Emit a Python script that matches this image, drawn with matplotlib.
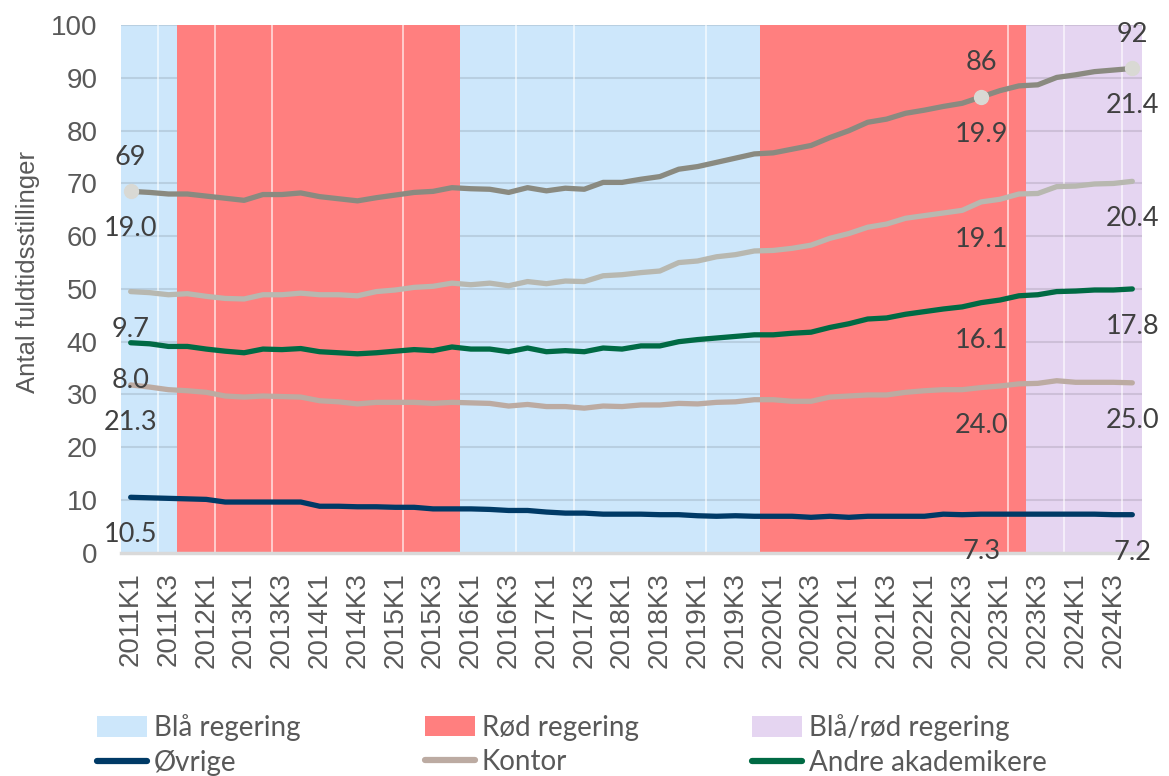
import numpy as np
import matplotlib.pyplot as plt
from matplotlib.patches import Patch
from matplotlib.lines import Line2D

# kvartaler (2012 har kun to kvartaler i data)
kvartaler = ['2011K1', '2011K2', '2011K3', '2011K4', '2012K1', '2012K4'] + \
    [f'{aar}K{k}' for aar in range(2013, 2025) for k in range(1, 5)]

# fuldtidsstillinger pr. gruppe (stables)
ovrige = [10.5, 10.4, 10.3, 10.2, 10.1, 9.6, 9.6, 9.6, 9.6, 9.6,
          8.8, 8.8, 8.7, 8.7, 8.6, 8.6, 8.3, 8.3, 8.3, 8.2,
          8.0, 8.0, 7.7, 7.5, 7.5, 7.3, 7.3, 7.3, 7.2, 7.2,
          7.0, 6.9, 7.0, 6.9, 6.9, 6.9, 6.7, 6.9, 6.7, 6.9,
          6.9, 6.9, 6.9, 7.3, 7.2, 7.3, 7.3, 7.3, 7.3, 7.3,
          7.3, 7.3, 7.2, 7.2]
kontor = [21.3, 21.0, 20.6, 20.5, 20.3, 20.1, 19.9, 20.1, 20.0, 19.9,
          20.0, 19.8, 19.5, 19.8, 19.9, 19.9, 20.0, 20.2, 20.1, 20.1,
          19.8, 20.1, 20.0, 20.2, 19.9, 20.5, 20.4, 20.7, 20.8, 21.1,
          21.2, 21.6, 21.6, 22.1, 22.1, 21.8, 22.0, 22.6, 23.0, 23.0,
          23.0, 23.5, 23.8, 23.6, 23.7, 24.0, 24.3, 24.7, 24.8, 25.3,
          25.0, 25.0, 25.1, 25.0]
andre = [8.0, 8.2, 8.2, 8.4, 8.2, 8.5, 8.4, 8.9, 8.9, 9.2,
         9.3, 9.3, 9.5, 9.4, 9.7, 10.0, 10.0, 10.5, 10.2, 10.3,
         10.3, 10.7, 10.4, 10.6, 10.7, 11.0, 10.9, 11.2, 11.2, 11.7,
         12.2, 12.2, 12.4, 12.3, 12.3, 12.9, 13.1, 13.2, 13.7, 14.4,
         14.6, 14.8, 15.0, 15.3, 15.7, 16.1, 16.3, 16.7, 16.8, 16.9,
         17.3, 17.5, 17.5, 17.8]
gruppe4 = [9.7, 9.7, 9.8, 10.0, 10.0, 10.0, 10.2, 10.3, 10.4, 10.5,
           10.8, 11.0, 11.0, 11.6, 11.6, 11.8, 12.2, 12.1, 12.2, 12.5,
           12.5, 12.6, 12.9, 13.2, 13.3, 13.7, 14.1, 13.9, 14.2, 15.0,
           14.9, 15.4, 15.5, 15.9, 16.0, 16.1, 16.5, 16.9, 17.1, 17.4,
           17.8, 18.2, 18.2, 18.2, 18.3, 19.1, 19.1, 19.3, 19.2, 19.9,
           19.9, 20.1, 20.2, 20.4]
gruppe5 = [19.0, 19.0, 19.1, 18.9, 19.0, 19.0, 18.7, 19.0, 19.0, 19.0,
           18.6, 18.2, 18.0, 17.8, 18.0, 18.0, 18.0, 18.1, 18.2, 17.8,
           17.7, 17.8, 17.6, 17.6, 17.5, 17.7, 17.5, 17.7, 17.9, 17.7,
           17.9, 17.9, 18.3, 18.4, 18.5, 18.8, 18.9, 19.1, 19.5, 19.9,
           19.9, 19.9, 20.0, 20.2, 20.3, 19.9, 20.6, 20.5, 20.6, 20.7,
           21.1, 21.3, 21.5, 21.4]

# regeringsperioder (grænser i kvartal-enheder)
regering = ['blaa', 'roed', 'blaa', 'roed', 'blaaroed']
skift = [-0.5, 2.47, 17.42, 33.3, 47.4, 53.5]
saml = [1.44, 4.46, 7.47, 14.4, 20.4, 23.47, 30.45, 46.4, 49.4, 52.45]

label_idx = [0, 45, 53]

farver = {'blaa': '#cde7fb', 'roed': '#ff7f7f', 'blaaroed': '#e5d5f1'}
linjefarver = ['#003a66', '#bcaba2', '#006a44', '#b8b8b0', '#8a8a80']

serier = np.array([ovrige, kontor, andre, gruppe4, gruppe5])
cum = np.cumsum(serier, axis=0)
x = np.arange(len(kvartaler))

fig = plt.figure(figsize=(11.69, 7.76), dpi=100)
ax = fig.add_axes([0.1037, 0.2878, 0.873, 0.6797])

for i, reg in enumerate(regering):
    z = 1 if reg == 'roed' else 0
    ax.axvspan(skift[i], skift[i + 1], color=farver[reg], lw=0, zorder=z)
for s in saml:
    ax.axvline(s, color='white', lw=1.2, alpha=0.7, zorder=1.5)
for y in range(10, 101, 10):
    ax.axhline(y, color='black', alpha=0.1, lw=1.5, zorder=0.5)
ax.axhline(0, color='#d9d9d9', lw=2.5, zorder=2, clip_on=False)

for k in range(5):
    ax.plot(x, cum[k], color=linjefarver[k], lw=3.8, zorder=3,
            solid_capstyle='round', solid_joinstyle='round')
ax.plot(x[label_idx], cum[4][label_idx], 'o', ms=10, color='#d9d9d4', zorder=4)

for i in label_idx:
    for k in range(5):
        ax.annotate(f'{serier[k][i]:.1f}', (x[i], cum[k][i]), xytext=(0, -27),
                    textcoords='offset points', ha='center', va='center',
                    fontsize=19.5, color='#404040', family='Lato',
                    annotation_clip=False, zorder=5)
    total = int(np.floor(cum[4][i] + 0.5))
    ax.annotate(str(total), (x[i], cum[4][i]), xytext=(0, 24.5),
                textcoords='offset points', ha='center', va='center',
                fontsize=19.5, color='#404040', family='Lato',
                annotation_clip=False, zorder=5)

ax.set_xlim(-0.5, 53.5)
ax.set_ylim(0, 100)
for sp in ax.spines.values():
    sp.set_visible(False)
ax.set_xticks(x[::2])
ax.set_xticklabels(kvartaler[::2], rotation=90, fontsize=20, color='#595959',
                   family='Liberation Sans')
ax.set_yticks(range(0, 101, 10))
ax.set_yticklabels([str(v) for v in range(0, 101, 10)], fontsize=20,
                   color='#595959', family='Liberation Sans')
ax.tick_params(axis='x', length=0, pad=14)
ax.tick_params(axis='y', length=0, pad=17)

fig.text(28 / 1169, 1 - 272 / 776, 'Antal fuldtidsstillinger', rotation=90,
         va='center', ha='center', fontsize=18.5, color='#595959',
         family='Liberation Sans')

navne = ['Øvrige', 'Kontor', 'Andre akademikere']
reg_navne = ['Blå regering', 'Rød regering', 'Blå/rød regering']
kol_x = [97 / 1169, 425 / 1169, 752 / 1169]
for j in range(3):
    h = [Patch(color=farver[['blaa', 'roed', 'blaaroed'][j]], lw=0),
         Line2D([], [], color=linjefarver[j], lw=4.5, solid_capstyle='round')]
    fig.legend(h, [reg_navne[j], navne[j]], loc='center left',
               bbox_to_anchor=(kol_x[j], 1 - 745 / 776), frameon=False,
               prop={'family': 'Lato', 'size': 20}, labelcolor='#595959',
               handlelength=1.8, handleheight=0.75, handletextpad=0.25,
               labelspacing=0.3, borderpad=0, borderaxespad=0)

fig.savefig('out.png', dpi=100)
